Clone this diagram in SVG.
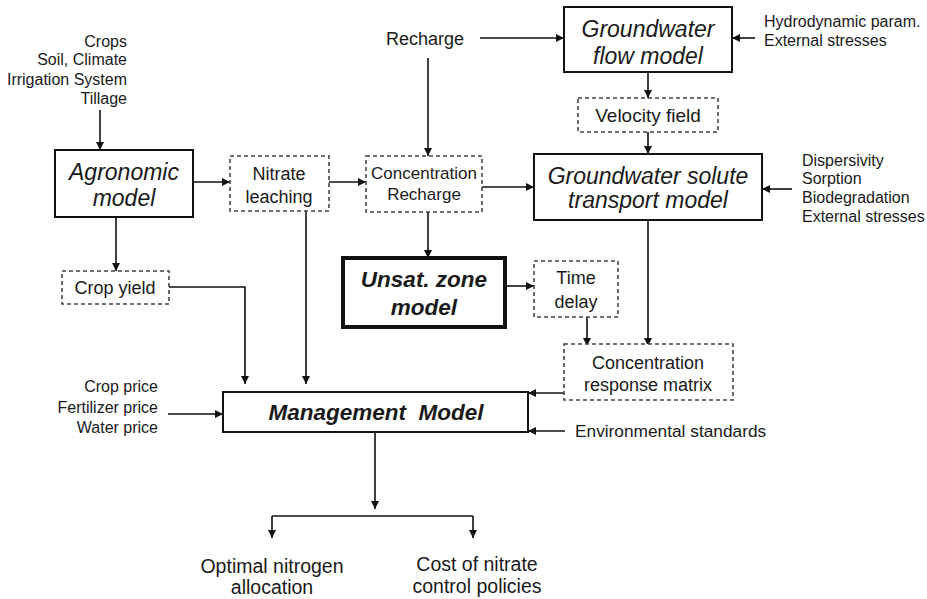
<svg xmlns="http://www.w3.org/2000/svg" width="927" height="599" viewBox="0 0 927 599">
<style>
text{font-family:"Liberation Sans",Arial,sans-serif;fill:#1a1a1a}
.box{fill:#fff;stroke:#111;stroke-width:2}
.thick{fill:#fff;stroke:#111;stroke-width:4}
.dash{fill:#fff;stroke:#444;stroke-width:1.6;stroke-dasharray:4 3}
.big{font-size:23px;font-style:italic}
.bb{font-size:22.5px;font-style:italic;font-weight:bold}
.mid{font-size:18px}
.sm{font-size:16px}
.out{font-size:19.5px}
.c{text-anchor:middle}
.r{text-anchor:end}
.ln{fill:none;stroke:#111;stroke-width:1.6;marker-end:url(#ah)}
.pl{fill:none;stroke:#111;stroke-width:1.6}
</style>
<defs>
<marker id="ah" viewBox="0 0 10 10" refX="10" refY="5" markerWidth="8" markerHeight="8" markerUnits="userSpaceOnUse" orient="auto">
<path d="M0,0 L10,5 L0,10 z" fill="#111"/>
</marker>
</defs>
<rect width="927" height="599" fill="#fff"/>

<g id="connectors">
<line class="ln" x1="100" y1="110" x2="100" y2="150"/>
<line class="ln" x1="193" y1="182" x2="230" y2="182"/>
<line class="ln" x1="329" y1="182" x2="366" y2="182"/>
<line class="ln" x1="482" y1="187" x2="534" y2="187"/>
<line class="ln" x1="480" y1="38" x2="564" y2="38"/>
<line class="ln" x1="428" y1="58" x2="428" y2="156"/>
<line class="ln" x1="755" y1="38" x2="732" y2="38"/>
<line class="ln" x1="648" y1="72" x2="648" y2="98"/>
<line class="ln" x1="648" y1="132" x2="648" y2="154"/>
<line class="ln" x1="792" y1="189" x2="762" y2="189"/>
<line class="ln" x1="116" y1="217" x2="116" y2="271"/>
<polyline class="ln" points="169,287 245,287 245,384"/>
<line class="ln" x1="306" y1="211" x2="306" y2="384"/>
<line class="ln" x1="428" y1="212" x2="428" y2="258"/>
<line class="ln" x1="505" y1="286" x2="534" y2="286"/>
<line class="ln" x1="587" y1="317" x2="587" y2="346"/>
<line class="ln" x1="648" y1="220" x2="648" y2="346"/>
<line class="ln" x1="564" y1="393" x2="528" y2="393"/>
<line class="ln" x1="565" y1="431" x2="528" y2="431"/>
<line class="ln" x1="168" y1="414" x2="223" y2="414"/>
<line class="ln" x1="375" y1="432" x2="375" y2="509"/>
<polyline class="pl" points="272,516 473,516"/>
<line class="ln" x1="272" y1="516" x2="272" y2="538"/>
<line class="ln" x1="473" y1="516" x2="473" y2="538"/>
</g>

<g id="inputs-agronomic">
<text class="sm r" x="127" y="47">Crops</text>
<text class="sm r" x="127" y="65">Soil, Climate</text>
<text class="sm r" x="127" y="85">Irrigation System</text>
<text class="sm r" x="127" y="104">Tillage</text>
</g>

<g id="agronomic">
<rect class="box" x="55" y="150" width="138" height="67"/>
<text class="big c" x="124" y="180">Agronomic</text>
<text class="big c" x="124" y="206">model</text>
</g>

<g id="nitrate-leaching">
<rect class="dash" x="230" y="156" width="99" height="55"/>
<text class="mid c" x="279" y="180">Nitrate</text>
<text class="mid c" x="279" y="203">leaching</text>
</g>

<g id="recharge">
<text class="mid c" x="425" y="45">Recharge</text>
</g>

<g id="concentration-recharge">
<rect class="dash" x="366" y="156" width="116" height="56"/>
<text class="c" style="font-size:17px" x="424" y="179">Concentration</text>
<text class="c" style="font-size:17px" x="424" y="200">Recharge</text>
</g>

<g id="gw-flow">
<rect class="box" x="564" y="7" width="168" height="65"/>
<text class="big c" x="648" y="37">Groundwater</text>
<text class="big c" x="648" y="64">flow model</text>
</g>

<g id="inputs-flow">
<text class="sm" x="764" y="27">Hydrodynamic param.</text>
<text class="sm" x="764" y="46">External stresses</text>
</g>

<g id="velocity">
<rect class="dash" x="578" y="98" width="140" height="34"/>
<text class="c" style="font-size:19px" x="648" y="122">Velocity field</text>
</g>

<g id="gw-transport">
<rect class="box" x="534" y="154" width="228" height="66"/>
<text class="big c" x="648" y="184">Groundwater solute</text>
<text class="big c" x="648" y="208">transport model</text>
</g>

<g id="inputs-transport">
<text class="sm" x="802" y="166">Dispersivity</text>
<text class="sm" x="802" y="184">Sorption</text>
<text class="sm" x="802" y="203">Biodegradation</text>
<text class="sm" x="802" y="222">External stresses</text>
</g>

<g id="crop-yield">
<rect class="dash" x="62" y="271" width="107" height="33"/>
<text class="mid c" x="115" y="294">Crop yield</text>
</g>

<g id="unsat">
<rect class="thick" x="343" y="258" width="162" height="69"/>
<text class="bb c" x="424" y="287">Unsat. zone</text>
<text class="bb c" x="424" y="315">model</text>
</g>

<g id="time-delay">
<rect class="dash" x="534" y="261" width="84" height="56"/>
<text class="mid c" x="576" y="284">Time</text>
<text class="mid c" x="576" y="308">delay</text>
</g>

<g id="response-matrix">
<rect class="dash" x="564" y="344" width="169" height="56"/>
<text class="mid c" x="648" y="369">Concentration</text>
<text class="mid c" x="648" y="391">response matrix</text>
</g>

<g id="inputs-management">
<text class="sm r" x="158" y="392">Crop price</text>
<text class="sm r" x="158" y="413">Fertilizer price</text>
<text class="sm r" x="158" y="433">Water price</text>
</g>

<g id="management">
<rect class="box" x="223" y="392" width="305" height="40"/>
<text class="bb c" x="376" y="420" xml:space="preserve">Management  Model</text>
</g>

<g id="env-standards">
<text x="575" y="437" style="font-size:17.3px">Environmental standards</text>
</g>

<g id="out-allocation">
<text class="out c" x="272" y="573">Optimal nitrogen</text>
<text class="out c" x="272" y="594">allocation</text>
</g>

<g id="out-cost">
<text class="out c" x="477" y="571">Cost of nitrate</text>
<text class="out c" x="477" y="593">control policies</text>
</g>
</svg>
